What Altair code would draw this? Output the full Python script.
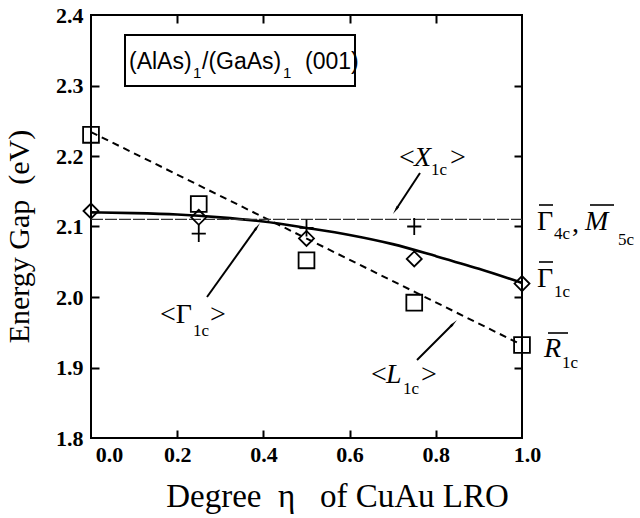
import math
import altair as alt
import pandas as pd

# ---------------- data ----------------
eta = [0.0, 0.25, 0.5, 0.75, 1.0]
gap_square = [2.23, 2.132, 2.052, 1.992, 1.932]      # open squares
gap_diamond = [2.122, 2.113, 2.083, 2.054, 2.019]    # open diamonds
eta_plus = [0.25, 0.5, 0.75]
gap_plus = [2.09, 2.098, 2.10]                       # plus signs
fit_eta = [0.0, 0.1, 0.2, 0.3, 0.4, 0.5, 0.6, 0.7, 0.8, 0.9, 1.0]
fit_gap = [2.120, 2.119, 2.117, 2.113, 2.107, 2.098, 2.088, 2.075, 2.058, 2.040, 2.020]
dash_eta = [0.0, 1.0]
dash_gap = [2.234, 1.932]
x1c_level = 2.11

x_ticks = [0.0, 0.2, 0.4, 0.6, 0.8, 1.0]
y_ticks = [1.8, 1.9, 2.0, 2.1, 2.2, 2.3, 2.4]
inner_x_ticks = [0.2, 0.4, 0.6, 0.8]
inner_y_ticks = [1.9, 2.0, 2.1, 2.2, 2.3]

NB = "\u00a0"
x_title = "Degree" + NB + " η" + NB + NB + " of CuAu LRO"
y_title = "Energy Gap" + NB + " (eV)"

W, H = 431, 423
XS = alt.Scale(domain=[0.0, 1.0], nice=False, zero=False)
YS = alt.Scale(domain=[1.8, 2.4], nice=False, zero=False)
SERIF = "Liberation Serif"
SANS = "Liberation Sans"

def X(field, axis=None):
    return alt.X(field, type="quantitative", scale=XS, axis=axis)

def Y(field, axis=None):
    return alt.Y(field, type="quantitative", scale=YS, axis=axis)

# ---------------- axes ----------------
main_x_axis = alt.Axis(
    orient="bottom", values=x_ticks, format=".1f", ticks=False, tickSize=0, domain=False,
    grid=False, labelFont=SERIF, labelFontSize=22, labelFontWeight="bold", labelColor="black",
    labelPadding=6, labelFlush=False,
    labelOffset={"condition": [{"test": "datum.value == 0", "value": 18},
                               {"test": "datum.value == 1", "value": 5}], "value": 0},
    title=x_title, titleFont=SERIF, titleFontSize=33,
    titleFontWeight="normal", titleColor="black", titleX=246, titleY=68,
    titleBaseline="alphabetic", titleAlign="center",
)
main_y_axis = alt.Axis(
    orient="left", values=y_ticks, format=".1f", ticks=False, tickSize=0, domain=False,
    grid=False, labelFont=SERIF, labelFontSize=22, labelFontWeight="bold", labelColor="black",
    labelPadding=8, labelBaseline="middle", labelFlush=False,
    title=y_title, titleFont=SERIF, titleFontSize=30, titleFontWeight="normal",
    titleColor="black", titleAngle=270, titleX=-72, titleY=221, titleBaseline="middle",
    titleAlign="center",
)
def tick_axis(orient, vals, offset):
    return alt.Axis(orient=orient, values=vals, labels=False, domain=False, grid=False,
                    ticks=True, tickSize=8, tickWidth=2, tickColor="black", title=None,
                    offset=offset)

# ---------------- layers ----------------
fit_df = pd.DataFrame({"eta": fit_eta, "gap": fit_gap})
fit_line = alt.Chart(fit_df).mark_line(color="black", strokeWidth=2.6, interpolate="monotone").encode(
    x=X("eta", main_x_axis), y=Y("gap", main_y_axis))

dash_df = pd.DataFrame({"eta": dash_eta, "gap": dash_gap})
dash_line = alt.Chart(dash_df).mark_line(color="black", strokeWidth=2, strokeDash=[7, 5]).encode(
    x=X("eta", tick_axis("top", inner_x_ticks, -H)),
    y=Y("gap", tick_axis("right", inner_y_ticks, -W)))

lvl_df = pd.DataFrame({"eta": [0.0], "eta2": [1.0], "gap": [x1c_level]})
lvl_line = alt.Chart(lvl_df).mark_rule(color="#333", strokeWidth=1.2, strokeDash=[12, 2]).encode(
    x=X("eta", tick_axis("bottom", inner_x_ticks, -H)), x2="eta2",
    y=Y("gap", tick_axis("left", inner_y_ticks, -W)))

sq_df = pd.DataFrame({"eta": eta, "gap": gap_square})
squares = alt.Chart(sq_df).mark_point(shape="square", size=250, filled=False, color="black",
                                      strokeWidth=1.8, opacity=1).encode(x=X("eta"), y=Y("gap"))
di_df = pd.DataFrame({"eta": eta, "gap": gap_diamond})
diamonds = alt.Chart(di_df).mark_point(shape="diamond", size=225, filled=False, color="black",
                                       strokeWidth=1.8, opacity=1).encode(x=X("eta"), y=Y("gap"))
pl_df = pd.DataFrame({"eta": eta_plus, "gap": gap_plus})
pluses = alt.Chart(pl_df).mark_point(shape="M-1,0H1M0,-1.2V1.2", size=200, filled=False,
                                     color="black", strokeWidth=1.8, opacity=1).encode(
    x=X("eta"), y=Y("gap"))

# ---------------- annotations (data coordinates) ----------------
def px_to_eta(px):
    return (px - 91) / W
def px_to_gap(py):
    return 2.4 - (py - 15) * 0.6 / H

arrow_tail_px = [(420, 173), (207, 297), (417, 360)]
arrow_head_px = [(393, 214), (260, 223), (457, 320)]
arr_rows = []
head_rows = []
for (tx, ty), (hx, hy) in zip(arrow_tail_px, arrow_head_px):
    dx, dy = hx - tx, hy - ty
    ln = math.hypot(dx, dy)
    ux, uy = dx / ln, dy / ln
    ang = math.degrees(math.atan2(ux, -uy)) % 360
    cx, cy = hx - ux * 6, hy - uy * 6
    arr_rows.append({"x": px_to_eta(tx), "y": px_to_gap(ty),
                     "x2": px_to_eta(hx - ux * 6), "y2": px_to_gap(hy - uy * 6)})
    head_rows.append({"x": px_to_eta(cx), "y": px_to_gap(cy), "ang": ang})
arrows = alt.Chart(pd.DataFrame(arr_rows)).mark_rule(color="black", strokeWidth=2).encode(
    x=X("x"), y=Y("y"), x2="x2", y2="y2")
heads = alt.Chart(pd.DataFrame(head_rows)).mark_point(shape="wedge", size=110, filled=True,
                                                       color="black", opacity=1).encode(
    x=X("x"), y=Y("y"), angle=alt.Angle("ang:Q", scale=None))

def text_layer(labels, pxs, pys, font, size, style="normal", weight="normal"):
    df = pd.DataFrame({"t": labels, "x": [px_to_eta(p) for p in pxs],
                       "y": [px_to_gap(p) for p in pys]})
    return alt.Chart(df).mark_text(font=font, fontSize=size, fontStyle=style, fontWeight=weight,
                                   align="left", baseline="alphabetic", color="black").encode(
        x=X("x"), y=Y("y"), text="t:N")

# main serif upright text
t_up = text_layer(["<", ">", "<Γ", ">", "<", ">", "Γ", ",", "Γ"],
                  [399, 450, 160, 210, 371, 421, 537, 572, 537],
                  [166, 166, 323, 323, 383, 383, 230, 232, 287], SERIF, 28)
# italic serif letters
t_it = text_layer(["X", "L", "M", "R"], [414, 386, 585, 544], [166, 383, 230, 357], SERIF, 28,
                  style="italic")
# subscripts
t_sub = text_layer(["1c", "1c", "1c", "4c", "5c", "1c", "1c"],
                   [431, 193, 403, 554, 618, 554, 562],
                   [175, 336, 394, 239, 245, 297, 368], SERIF, 17)
# overlines
ov_df = pd.DataFrame({"x": [px_to_eta(p) for p in [539, 590, 539, 548]],
                      "x2": [px_to_eta(p) for p in [553, 614, 553, 568]],
                      "y": [px_to_gap(p) for p in [205, 205, 262, 333]]})
overlines = alt.Chart(ov_df).mark_rule(color="black", strokeWidth=1.6).encode(
    x=X("x"), x2="x2", y=Y("y"))

# boxed title
box_df = pd.DataFrame({"x": [px_to_eta(125)], "x2": [px_to_eta(355)],
                       "y": [px_to_gap(35)], "y2": [px_to_gap(86)]})
box = alt.Chart(box_df).mark_rect(fill=None, fillOpacity=0, stroke="black", strokeWidth=2).encode(
    x=X("x"), x2="x2", y=Y("y"), y2="y2")
t_box = text_layer(["(AlAs)", "/(GaAs)", "(001)"], [129, 202, 305], [69, 69, 69], SANS, 23)
t_box_sub = text_layer(["1", "1"], [193, 283], [78, 78], SANS, 15)

chart = alt.layer(
    fit_line, dash_line, lvl_line, squares, diamonds, pluses,
    arrows, heads, t_up, t_it, t_sub, overlines, box, t_box, t_box_sub,
).resolve_axis(x="independent", y="independent").properties(
    width=W, height=H,
    autosize=alt.AutoSizeParams(type="none"),
    padding={"left": 91, "top": 15, "right": 640 - 91 - W, "bottom": 518 - 15 - H},
    background="white",
).configure_view(stroke="black", strokeWidth=2)

chart.save("out.html", embed_options={"renderer": "svg", "actions": False})
